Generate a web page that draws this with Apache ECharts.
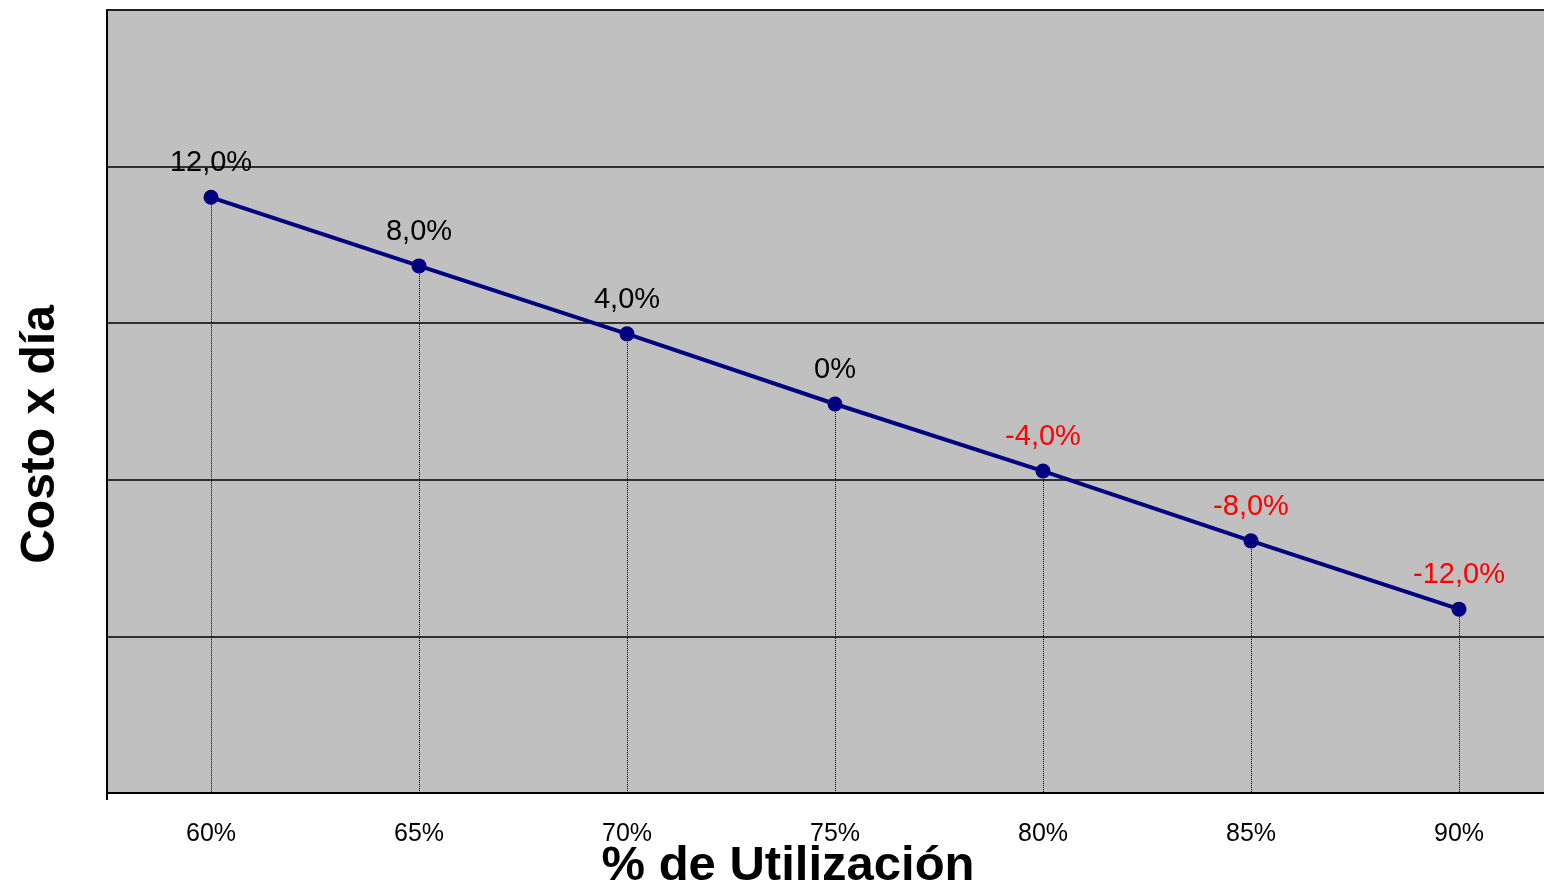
<!DOCTYPE html>
<html>
<head>
<meta charset="utf-8">
<script src="https://cdn.jsdelivr.net/npm/echarts@6/dist/echarts.min.js"></script>
<style>
  html, body { margin: 0; padding: 0; background: #fff; }
  #chart { width: 1544px; height: 886px; }
</style>
</head>
<body>
<div id="chart"></div>
<script>
// % de utilización (categorías del eje X)
const categories = ['60%', '65%', '70%', '75%', '80%', '85%', '90%']
// costo por día (escala, sin etiquetas en el eje)
const costValues = [190.2, 168.3, 146.6, 124.2, 102.8, 80.5, 58.7]
// variación mostrada sobre cada punto
const pointLabels = ['12,0%', '8,0%', '4,0%', '0%', '-4,0%', '-8,0%', '-12,0%']

const FONT = '"Liberation Sans", Arial, sans-serif'

const chart = echarts.init(document.getElementById('chart'))

const lineData = costValues.map((v, i) => ({
  value: v,
  label: {
    formatter: pointLabels[i],
    color: pointLabels[i].startsWith('-') ? '#ff0000' : '#000000'
  }
}))

// líneas punteadas verticales desde cada punto hasta el eje
const dropLines = costValues.map((v, i) => [
  { coord: [i, v] },
  { coord: [i, 0] }
])

chart.setOption({
  animation: false,
  backgroundColor: '#ffffff',
  grid: {
    left: 107, right: -19, top: 10, bottom: 93,
    containLabel: false,
    outerBoundsMode: 'none',
    show: true,
    backgroundColor: '#c0c0c0',
    borderColor: '#808080',
    borderWidth: 2
  },
  xAxis: {
    type: 'category',
    data: categories,
    boundaryGap: true,
    name: '% de Utilización',
    nameLocation: 'middle',
    nameGap: 49,
    nameMoveOverlap: false,
    nameTextStyle: {
      fontFamily: FONT, fontSize: 49, fontWeight: 'bold', color: '#000',
      padding: [0, 94, 0, 0]
    },
    axisLine: { lineStyle: { color: '#000', width: 2 } },
    axisTick: { show: true, length: 7, interval: (idx) => idx === 0, lineStyle: { color: '#000', width: 2 } },
    axisLabel: { fontFamily: FONT, fontSize: 25, color: '#000', margin: 29 },
    splitLine: { show: false }
  },
  yAxis: {
    type: 'value',
    min: 0, max: 250, interval: 50,
    name: 'Costo x día',
    nameLocation: 'middle',
    nameRotate: 90,
    nameGap: 42,
    nameMoveOverlap: false,
    nameTextStyle: {
      fontFamily: FONT, fontSize: 48, fontWeight: 'bold', color: '#000',
      padding: [0, 66, 0, 0]
    },
    axisLine: { show: true, lineStyle: { color: '#000', width: 2 } },
    axisTick: { show: false },
    axisLabel: { show: false },
    splitLine: { show: true, lineStyle: { color: '#000', width: 1.5 } }
  },
  series: [{
    type: 'line',
    data: lineData,
    symbol: 'circle',
    symbolSize: 15,
    lineStyle: { color: '#000080', width: 4 },
    itemStyle: { color: '#000080' },
    label: {
      show: true,
      position: 'top',
      distance: 12,
      fontFamily: FONT,
      fontSize: 29
    },
    markLine: {
      silent: true,
      symbol: 'none',
      label: { show: false },
      lineStyle: { color: '#000', type: 'dotted', width: 1 },
      data: dropLines
    },
    z: 3
  }]
})
</script>
</body>
</html>
